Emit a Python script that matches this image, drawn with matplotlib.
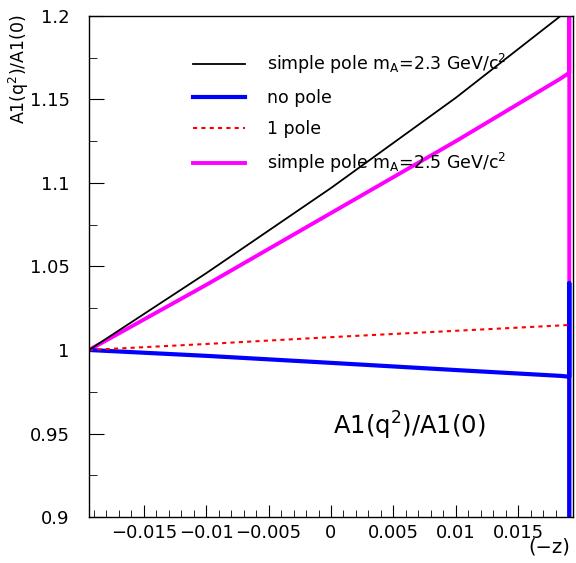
import numpy as np
import matplotlib.pyplot as plt

plt.rcParams['font.family'] = ['DejaVu Sans']
plt.rcParams['mathtext.default'] = 'regular'

# values, x = (-z)
z = [-0.0194, -0.01, 0.0, 0.01, 0.0184, 0.0191]
pole23 = [1.0, 1.046, 1.097, 1.151, 1.2, 1.204]
pole25 = [1.0, 1.039, 1.082, 1.125, 1.1625, 1.166]
nopole = [1.0, 0.9965, 0.9923, 0.988, 0.9845, 0.984]
onepole = [1.0, 1.0036, 1.0077, 1.0115, 1.0147, 1.015]

# last bin edge where the histograms drop
z_edge = [0.0191, 0.0191]
pole25_edge = [1.3, 0.0]
nopole_edge = [1.04, 0.0]

labels = ['simple pole m$_A$=2.3 GeV/c$^2$', 'no pole', '1 pole',
          'simple pole m$_A$=2.5 GeV/c$^2$']

fig = plt.figure(figsize=(5.76, 5.63), dpi=100)
ax = fig.add_axes([0.1545, 0.0817, 0.8403, 0.8899])

h4, = ax.plot(z + z_edge, pole25 + pole25_edge, color='#ff00ff', lw=2.8)
h2, = ax.plot(z + z_edge, nopole + nopole_edge, color='#0000ff', lw=3)
h3, = ax.plot(z, onepole, color='red', lw=1.5, ls=(0, (2, 2)))
h1, = ax.plot(z, pole23, color='black', lw=1.3)

ax.set_xlim(-0.0194, 0.0194)
ax.set_ylim(0.9, 1.2)
ax.set_xticks([-0.015, -0.01, -0.005, 0, 0.005, 0.01, 0.015])
ax.set_xticklabels(['\u22120.015', '\u22120.01', '\u22120.005', '0', '0.005',
                    '0.01', '0.015'])
ax.set_xticks(np.arange(-0.019, 0.0195, 0.001), minor=True)
ax.set_yticks([0.9, 0.95, 1.0, 1.05, 1.1, 1.15, 1.2])
ax.set_yticklabels(['0.9', '0.95', '1', '1.05', '1.1', '1.15', '1.2'])
ax.set_yticks(np.arange(0.9, 1.2001, 0.025), minor=True)
ax.tick_params(which='both', direction='in', labelsize=13, top=False, right=False)
ax.tick_params(axis='y', which='major', length=11, pad=14)
ax.tick_params(axis='y', which='minor', length=6)
ax.tick_params(axis='x', which='major', length=9, pad=5)
ax.tick_params(axis='x', which='minor', length=5)
for s in ax.spines.values():
    s.set_linewidth(1.0)

leg = ax.legend([h1, h2, h3, h4], labels, loc='upper left',
                bbox_to_anchor=(0.182, 0.96), frameon=False, fontsize=12.5,
                handlelength=3.0, handletextpad=1.3, labelspacing=0.75)

ax.text(0.505, 0.165, 'A1(q$^2$)/A1(0)', transform=ax.transAxes, fontsize=17.5)
fig.text(0.033, 0.974, 'A1(q$^2$)/A1(0)', rotation=90, ha='center', va='top',
         fontsize=12.5)
fig.text(0.99, 0.012, '(\u2212z)', ha='right', va='bottom', fontsize=14)

fig.savefig('out.png', dpi=100)
